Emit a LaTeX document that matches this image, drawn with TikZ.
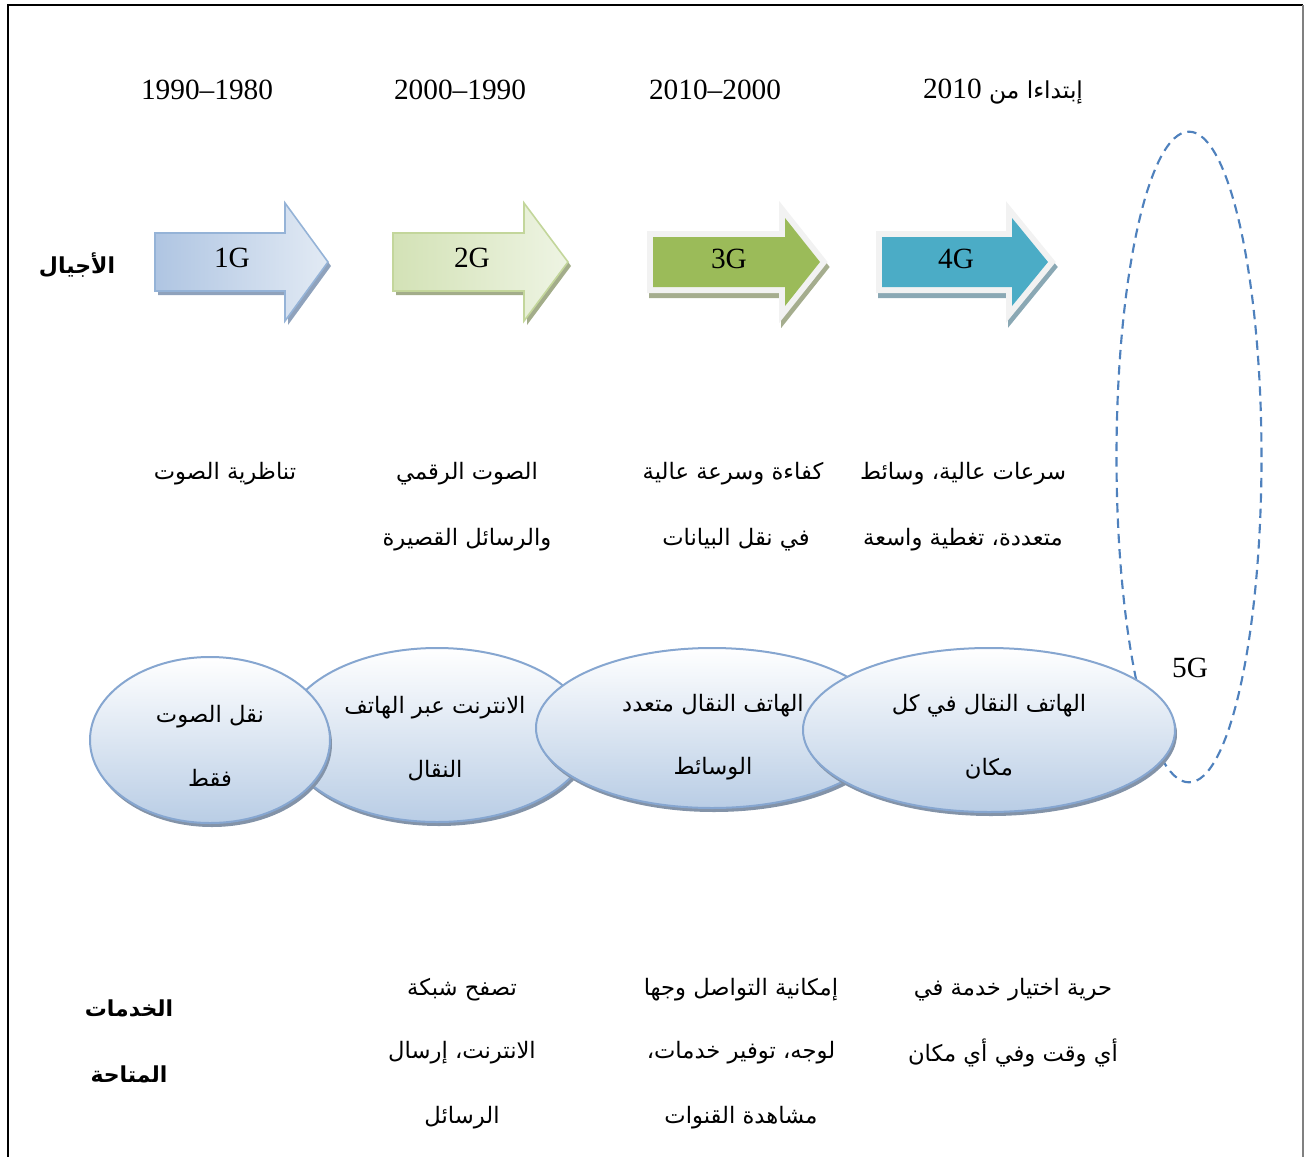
\documentclass[tikz,border=0pt]{standalone}
\usepackage{fontspec}
\setmainfont{Liberation Serif}
\newfontfamily\arabicfont[Script=Arabic]{DejaVu Sans}
\TeXXeTstate=1
\usetikzlibrary{shapes.geometric,shadows}

\definecolor{oneedge}{HTML}{95B3D7}
\definecolor{onedark}{HTML}{AFC5E2}
\definecolor{onelight}{HTML}{E2EAF4}
\definecolor{oneshadow}{HTML}{8FA2BC}
\definecolor{twoedge}{HTML}{C3D69B}
\definecolor{twodark}{HTML}{D3E2B6}
\definecolor{twolight}{HTML}{EEF4E3}
\definecolor{twoshadow}{HTML}{A3AD8A}
\definecolor{threefill}{HTML}{9BBB59}
\definecolor{threeshadow}{HTML}{A5AD8E}
\definecolor{fourfill}{HTML}{4BACC6}
\definecolor{fourshadow}{HTML}{8AA8B4}
\definecolor{glow}{HTML}{F2F2F2}
\definecolor{bubbleedge}{HTML}{86A6D0}
\definecolor{bubblefill}{HTML}{B9CDE5}
\definecolor{bubbleshadow}{HTML}{8393A8}
\definecolor{dashblue}{HTML}{4F81BD}

\newcommand\artext[1]{\beginR #1\endR}
% arrow outline: left end, head start, tip, half body height, half head height
\newcommand\apath[5]{(#1,262-#4) -- (#2,262-#4) -- (#2,262-#5) -- (#3,262) -- (#2,262+#5) -- (#2,262+#4) -- (#1,262+#4) -- cycle}

\tikzset{
  lbl/.style={font=\fontsize{22}{26}\selectfont, inner sep=0pt},
  ar/.style={font=\arabicfont\fontsize{17}{20}\selectfont, inner sep=0pt},
  arb/.style={font=\arabicfont\bfseries\fontsize{16.5}{20}\selectfont, inner sep=0pt},
  bubble/.style={ellipse, draw=bubbleedge, line width=1.5pt, top color=white,
    bottom color=bubblefill, inner sep=0pt,
    drop shadow={shadow xshift=1.5pt, shadow yshift=-3pt, fill=bubbleshadow, opacity=1}},
  fiveg/.style={ellipse, draw=dashblue, line width=1.6pt, dash pattern=on 7pt off 4.5pt, inner sep=0pt},
}

\begin{document}
\begin{tikzpicture}[x=0.75pt,y=-0.75pt]
\useasboundingbox (0,0) rectangle (1304,1157);

% frame
\draw[black, line width=1.6pt] (8,1157) -- (8,5) -- (1303,5);
\draw[gray, line width=0.8pt] (1303,5) -- (1303,1157);

% periods
\node[lbl] (p1) at (207,90) {1990–1980};
\node[lbl] (p2) at (460,90) {2000–1990};
\node[lbl] (p3) at (715,90) {2010–2000};
\node[lbl, font=\arabicfont\fontsize{17.5}{20}\selectfont] (p4) at (1003,92)
  {\artext{إبتداءا من \beginL{\rmfamily\fontsize{22}{26}\selectfont 2010}\endL}};

% generations row
\node[arb] (gens) at (77,265) {\artext{الأجيال}};

% 1G
\fill[oneshadow, shift={(3,4)}] \apath{155}{285}{328}{29}{59};
\draw[oneedge, line width=1.2pt, line join=miter, left color=onedark, right color=onelight]
  \apath{155}{285}{328}{29}{59};
% 2G
\fill[twoshadow, shift={(3,4)}] \apath{393}{524}{568}{29}{59};
\draw[twoedge, line width=1.2pt, line join=miter, left color=twodark, right color=twolight]
  \apath{393}{524}{568}{29}{59};
% 3G
\draw[threeshadow, fill=threeshadow, line width=9pt, line join=miter, shift={(2,5)}] \apath{653}{785}{820}{25}{44};
\draw[glow, fill=glow, line width=9pt, line join=miter] \apath{653}{785}{820}{25}{44};
\fill[threefill] \apath{653}{785}{820}{25}{44};
% 4G
\draw[fourshadow, fill=fourshadow, line width=9pt, line join=miter, shift={(2,5)}] \apath{882}{1012}{1048}{25}{44};
\draw[glow, fill=glow, line width=9pt, line join=miter] \apath{882}{1012}{1048}{25}{44};
\fill[fourfill] \apath{882}{1012}{1048}{25}{44};

\node[lbl] (g1) at (232,258) {1G};
\node[lbl] (g2) at (472,258) {2G};
\node[lbl] (g3) at (729,259) {3G};
\node[lbl] (g4) at (956,259) {4G};

% features of each generation
\node[ar] (f1) at (225,474) {\artext{تناظرية الصوت}};
\node[ar] (f2a) at (467,474) {\artext{الصوت الرقمي}};
\node[ar] (f2b) at (467,540) {\artext{والرسائل القصيرة}};
\node[ar] (f3a) at (733,474) {\artext{كفاءة وسرعة عالية}};
\node[ar] (f3b) at (736,540) {\artext{في نقل البيانات}};
\node[ar] (f4a) at (963,474) {\artext{سرعات عالية، وسائط}};
\node[ar] (f4b) at (963,540) {\artext{متعددة، تغطية واسعة}};

% 5G outline
\node[fiveg, minimum width=108.75pt, minimum height=488pt] (e5) at (1189,457) {};
\node[lbl] (g5) at (1190,668) {5G};

% bubbles
\node[bubble, minimum width=229.5pt, minimum height=130.5pt] (e2) at (437,735) {};
\node[bubble, minimum width=180pt, minimum height=124.5pt] (e1) at (210,740) {};
\node[bubble, minimum width=264pt, minimum height=120pt] (e3) at (712,728) {};
\node[bubble, minimum width=279pt, minimum height=123pt] (e4) at (989,730) {};

\node[ar] (t1a) at (210,717) {\artext{نقل الصوت}};
\node[ar] (t1b) at (210,778) {\artext{فقط}};
\node[ar] (t2a) at (435,708) {\artext{الانترنت عبر الهاتف}};
\node[ar] (t2b) at (435,771) {\artext{النقال}};
\node[ar] (t3a) at (713,706) {\artext{الهاتف النقال متعدد}};
\node[ar] (t3b) at (713,769) {\artext{الوسائط}};
\node[ar] (t4a) at (989,706) {\artext{الهاتف النقال في كل}};
\node[ar] (t4b) at (989,769) {\artext{مكان}};

% available services
\node[arb] (s0a) at (129,1008) {\artext{الخدمات}};
\node[arb] (s0b) at (129,1074) {\artext{المتاحة}};
\node[ar] (s2a) at (462,990) {\artext{تصفح شبكة}};
\node[ar] (s2b) at (462,1053) {\artext{الانترنت، إرسال}};
\node[ar] (s2c) at (462,1118) {\artext{الرسائل}};
\node[ar] (s3a) at (741,990) {\artext{إمكانية التواصل وجها}};
\node[ar] (s3b) at (741,1053) {\artext{لوجه، توفير خدمات،}};
\node[ar] (s3c) at (741,1118) {\artext{مشاهدة القنوات}};
\node[ar] (s4a) at (1013,990) {\artext{حرية اختيار خدمة في}};
\node[ar] (s4b) at (1013,1053) {\artext{أي وقت وفي أي مكان}};
\end{tikzpicture}
\end{document}
